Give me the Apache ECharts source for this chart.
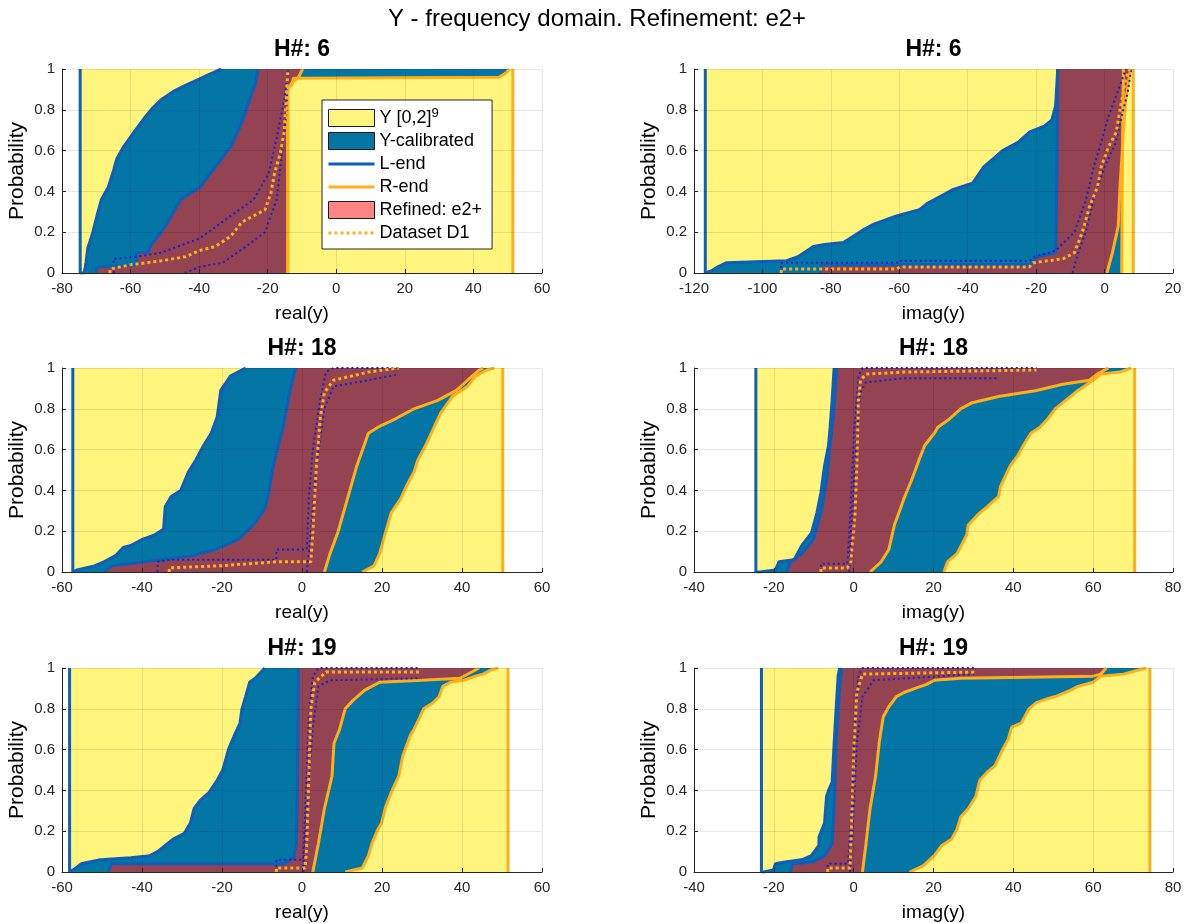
<!DOCTYPE html>
<html>
<head>
<meta charset="utf-8">
<script src="https://cdn.jsdelivr.net/npm/echarts@6/dist/echarts.min.js"></script>
<style>
  html, body { margin: 0; padding: 0; background: #fff; }
  #chart { width: 1195px; height: 923px; }
</style>
</head>
<body>
<div id="chart"></div>
<script>
// ---- panel metadata ----
const HARMONIC = [6, 6, 18, 18, 19, 19];
const AXIS_NAME = ['real(y)', 'imag(y)', 'real(y)', 'imag(y)', 'real(y)', 'imag(y)'];
const X_MIN = [-80, -120, -60, -40, -60, -40];
const X_MAX = [60, 20, 60, 80, 60, 80];
const X_STEP = 20;
const P_TICKS = [0, 0.2, 0.4, 0.6, 0.8, 1];

// interval ends of Y [0,2]^9
const L_END = [-74.7, -116.7, -57.3, -24.5, -58.1, -23.1];
const R_END = [51.5, 8.4, 50.2, 70.4, 51.5, 74.2];

// ---- H#6, real part ----  points are [value, probability]
const H6_RE_CAL_LEFT = [[-74.7,0],[-73.5,0],[-73,0.05],[-72.5,0.12],[-71,0.2],[-69.5,0.3],[-68.5,0.36],[-66.5,0.42],[-65,0.5],[-64,0.56],[-62,0.62],[-59,0.69],[-55.5,0.77],[-53.5,0.81],[-51,0.85],[-47.5,0.89],[-44,0.92],[-40,0.95],[-37.5,0.97],[-33.6,1]];
const H6_RE_CAL_RIGHT = [[-14.1,0],[-14.1,0.91],[-13,0.92],[-12.5,0.955],[47.5,0.96],[49.5,0.98],[50.5,1]];
const H6_RE_REF_LEFT = [[-69.9,0],[-69.9,0.03],[-58.2,0.04],[-58.2,0.1],[-54.9,0.1],[-54.3,0.13],[-49.8,0.23],[-45.4,0.36],[-39.8,0.42],[-35.3,0.52],[-30.8,0.62],[-27.5,0.74],[-25.3,0.85],[-23.6,0.93],[-22.8,1]];
const H6_RE_REF_RIGHT = [[-14.2,0],[-14.2,0.9],[-13,0.93],[-11,0.96],[-9.8,1]];
const H6_RE_D1 = [[-66,0],[-66,0.02],[-60,0.04],[-51,0.06],[-44,0.08],[-40,0.11],[-35.3,0.13],[-30.8,0.18],[-27.5,0.25],[-24.1,0.28],[-20.8,0.31],[-19.1,0.39],[-18,0.49],[-16.3,0.59],[-15.2,0.69],[-14.6,0.85],[-14.1,1]];
const H6_RE_D1_HI = [[-64.9,0],[-64.9,0.07],[-58,0.08],[-51,0.1],[-39.8,0.17],[-30.8,0.28],[-24.1,0.36],[-19.7,0.49],[-17.4,0.66],[-15.2,0.85],[-13.9,1]];
const H6_RE_D1_LO = [[-44.2,0],[-39.8,0.03],[-33.1,0.05],[-26.4,0.13],[-20.8,0.2],[-17.4,0.36],[-16.3,0.52],[-14.6,0.77],[-14.1,1]];

// ---- H#6, imaginary part ----
const H6_IM_CAL_LEFT = [[-116.7,0],[-115,0.01],[-113,0.03],[-110.6,0.05],[-92.9,0.06],[-89.6,0.08],[-85.1,0.13],[-81.8,0.14],[-76.3,0.15],[-70.7,0.21],[-67.4,0.24],[-60.8,0.28],[-54.1,0.31],[-51.9,0.34],[-47.5,0.38],[-44.2,0.41],[-38.6,0.44],[-35.3,0.52],[-29.8,0.6],[-25.3,0.64],[-22,0.69],[-17.6,0.72],[-15.4,0.75],[-14.3,0.82],[-13.7,1]];
const H6_IM_CAL_RIGHT = [[5,0],[5.1,0.3],[5.3,0.7],[5.5,1]];
const H6_IM_REF_LEFT = [[-82.9,0],[-82.9,0.04],[-22,0.04],[-19.8,0.08],[-14.3,0.1],[-13.9,0.5],[-13.7,1]];
const H6_IM_REF_RIGHT = [[0.7,0],[2.3,0.1],[4,0.23],[4.5,0.42],[5.5,0.69],[6.2,0.85],[7.6,1]];
const H6_IM_D1 = [[-94.5,0],[-94.5,0.02],[-60.8,0.02],[-59.7,0.03],[-22,0.03],[-20.9,0.05],[-12.1,0.07],[-8.8,0.1],[-6.5,0.2],[-4.3,0.33],[-2.1,0.42],[-1,0.52],[1.2,0.62],[3.4,0.69],[4.5,0.8],[6.2,0.95],[7.3,1]];
const H6_IM_D1_HI = [[-94.5,0],[-94.5,0.05],[-60,0.05],[-59.7,0.06],[-22,0.06],[-20.5,0.08],[-14.3,0.11],[-8.8,0.2],[-5.4,0.36],[-3.2,0.52],[-1,0.64],[1.2,0.77],[4.5,0.92],[6.2,1]];
const H6_IM_D1_LO = [[-9.4,0],[-7.7,0.1],[-5.5,0.2],[-3.2,0.36],[0,0.52],[3.3,0.64],[5,0.77],[6.7,0.88],[7.8,1]];

// ---- H#18, real part ----
const H18_RE_CAL_LEFT = [[-57.3,0],[-56.2,0.01],[-51.9,0.03],[-49.5,0.05],[-46.6,0.08],[-44.7,0.12],[-42.8,0.13],[-39.9,0.16],[-37,0.18],[-34.6,0.21],[-34.2,0.32],[-32.7,0.37],[-30.3,0.4],[-28.4,0.49],[-26.5,0.55],[-24.6,0.62],[-22.7,0.68],[-21.2,0.76],[-20.3,0.89],[-17.9,0.96],[-14.1,1]];
const H18_RE_CAL_RIGHT = [[15.1,0],[18,0.03],[19.4,0.09],[20.4,0.16],[22.3,0.29],[24.7,0.36],[26.1,0.42],[28,0.49],[29,0.55],[30.9,0.62],[32.8,0.7],[34.7,0.78],[37.6,0.86],[41.4,0.91],[43.4,0.96],[46.2,0.99],[48.1,1]];
const H18_RE_REF_LEFT = [[-49.5,0],[-47.6,0.03],[-35.1,0.06],[-27.5,0.08],[-21.7,0.11],[-16,0.16],[-12.2,0.23],[-9.3,0.31],[-8.3,0.39],[-7.2,0.52],[-4.5,0.73],[-3.1,0.88],[-1.6,1]];
const H18_RE_REF_RIGHT = [[5.6,0],[7,0.09],[8.9,0.19],[10.8,0.32],[13.7,0.52],[16.6,0.68],[19,0.71],[23.3,0.75],[28,0.8],[33.8,0.84],[38.6,0.89],[41.4,0.94],[44.3,0.99],[45.3,1]];
const H18_RE_D1 = [[-33.2,0],[-33.2,0.02],[-20.8,0.03],[-6.4,0.05],[2.2,0.05],[2.7,0.19],[3.6,0.52],[4.6,0.76],[5.6,0.88],[7.9,0.94],[16.6,0.98],[24.2,1]];
const H18_RE_D1_HI = [[-36.1,0],[-36.1,0.05],[-33,0.06],[-6.4,0.06],[-6.4,0.11],[1.2,0.11],[1.7,0.36],[2.7,0.6],[4.6,0.85],[6,0.98],[7.9,1],[24.2,1]];
const H18_RE_D1_LO = [[1.2,0],[2.2,0.19],[3.6,0.52],[5.6,0.8],[7.9,0.91],[16.6,0.94],[24.2,0.97]];

// ---- H#18, imaginary part ----
const H18_IM_CAL_LEFT = [[-24.5,0],[-23.4,0],[-19.6,0.01],[-18.7,0.05],[-14.9,0.06],[-13,0.13],[-10.6,0.19],[-9.2,0.29],[-8.2,0.39],[-7.3,0.52],[-6.3,0.62],[-5.9,0.71],[-5.4,0.84],[-4.9,1]];
const H18_IM_CAL_RIGHT = [[22.6,0],[23.5,0.05],[25.9,0.09],[28.3,0.18],[28.7,0.23],[30.6,0.27],[31.6,0.29],[33.5,0.32],[36.3,0.37],[36.8,0.42],[39.2,0.52],[41.1,0.57],[42.5,0.62],[44.4,0.68],[46.7,0.71],[48.6,0.75],[50.5,0.8],[52.4,0.83],[54.3,0.86],[56.2,0.89],[60,0.94],[61.9,0.97],[66.7,0.98],[69.5,1]];
const H18_IM_REF_LEFT = [[-16.8,0],[-15.8,0.05],[-13,0.09],[-10.1,0.16],[-8.2,0.29],[-6.8,0.45],[-5.9,0.62],[-4.9,0.8],[-4.3,1]];
const H18_IM_REF_RIGHT = [[4.1,0],[6.9,0.05],[8.8,0.11],[10.2,0.23],[11.7,0.31],[12.6,0.36],[14.5,0.45],[16.4,0.55],[17.8,0.62],[20.2,0.68],[21.1,0.71],[24,0.75],[26.8,0.8],[29.7,0.83],[36.3,0.86],[45.8,0.89],[52.4,0.92],[59.1,0.94],[61,0.97],[63.8,1]];
const H18_IM_D1 = [[-8.2,0],[-8.2,0.02],[-1.6,0.02],[-0.7,0.05],[0.3,0.27],[0.8,0.52],[1.2,0.84],[1.7,0.94],[3.1,0.97],[12.6,0.98],[45.8,0.99]];
const H18_IM_D1_HI = [[-8.2,0],[-8.2,0.04],[-1.6,0.04],[-1.1,0.19],[0.1,0.68],[1.2,0.96],[2.2,1],[45.8,1]];
const H18_IM_D1_LO = [[-1.1,0],[-0.7,0.19],[0.8,0.68],[1.7,0.88],[3.1,0.93],[12.6,0.95],[36.3,0.95]];

// ---- H#19, real part ----
const H19_RE_CAL_LEFT = [[-58.1,0],[-57.6,0],[-56.5,0.02],[-55.2,0.04],[-50.4,0.06],[-42.8,0.07],[-38,0.08],[-36.1,0.1],[-34.2,0.13],[-32.3,0.16],[-29.4,0.19],[-27.9,0.24],[-27,0.31],[-25.5,0.35],[-23.2,0.39],[-21.2,0.45],[-19.8,0.5],[-18.8,0.57],[-18.4,0.6],[-16.9,0.67],[-15.5,0.73],[-15,0.8],[-14.1,0.86],[-13.1,0.93],[-11.7,0.95],[-9.3,1]];
const H19_RE_CAL_RIGHT = [[10.8,0],[15.1,0.02],[16.6,0.08],[17.5,0.14],[19,0.21],[19.9,0.24],[20.9,0.32],[22.3,0.39],[24.2,0.47],[25.2,0.57],[27.1,0.67],[28,0.7],[29.5,0.76],[30.4,0.8],[32.8,0.83],[34.3,0.86],[35.2,0.91],[37.1,0.93],[40.5,0.94],[43.4,0.96],[45.3,0.97],[47.2,0.99],[49.1,1]];
const H19_RE_REF_LEFT = [[-48.5,0],[-47.6,0.04],[-4.5,0.04],[-2.1,0.07],[-1.4,0.14],[-1.1,0.47],[-0.9,1]];
const H19_RE_REF_RIGHT = [[2.7,0],[4.1,0.14],[5.6,0.31],[7.5,0.47],[8,0.63],[9.4,0.7],[10.8,0.8],[12.7,0.84],[15.6,0.89],[19.4,0.93],[30,0.94],[39.5,0.95],[44.3,1]];
const H19_RE_D1 = [[-6.4,0],[-6.4,0.02],[0.8,0.02],[1.2,0.14],[1.7,0.47],[2.2,0.8],[3.2,0.93],[6,0.98],[29.5,0.98]];
const H19_RE_D1_HI = [[-6.4,0],[-6.4,0.06],[0.3,0.06],[0.8,0.31],[1.7,0.76],[2.7,0.96],[4.1,1],[29.5,1]];
const H19_RE_D1_LO = [[0.3,0],[1.2,0.31],[2.7,0.71],[4.1,0.91],[7,0.94],[29.5,0.95]];

// ---- H#19, imaginary part ----
const H19_IM_CAL_LEFT = [[-23.1,0],[-22.5,0],[-20.1,0.01],[-19.6,0.04],[-16.8,0.05],[-13,0.06],[-10.6,0.08],[-8.7,0.13],[-8.7,0.17],[-7.3,0.24],[-6.8,0.37],[-6.3,0.4],[-5.4,0.44],[-4.9,0.63],[-4.4,0.8],[-3.9,0.96],[-3.5,1]];
const H19_IM_CAL_RIGHT = [[14,0],[17.4,0.03],[20.2,0.08],[22.1,0.13],[24.5,0.16],[25.9,0.21],[26.8,0.27],[28.7,0.31],[30.6,0.37],[31.6,0.45],[33.5,0.49],[35.4,0.52],[37.3,0.6],[38.7,0.65],[39.6,0.71],[42,0.73],[43.9,0.8],[45.8,0.83],[48.6,0.85],[50.5,0.86],[54.3,0.89],[56.2,0.91],[60,0.93],[61.9,0.96],[67.6,0.97],[71.4,0.99],[73.3,1]];
const H19_IM_REF_LEFT = [[-15.8,0],[-15.4,0.04],[-10.1,0.05],[-7.3,0.08],[-5.4,0.14],[-4.9,0.31],[-4.4,0.63],[-3.6,0.88],[-3,1]];
const H19_IM_REF_RIGHT = [[2.2,0],[3.1,0.14],[4.1,0.31],[5.5,0.47],[6.5,0.65],[7.4,0.76],[8.8,0.81],[10.7,0.86],[12.6,0.88],[15.4,0.9],[18.3,0.92],[20.2,0.94],[26.8,0.95],[60,0.96],[61.9,0.97],[63.3,1]];
const H19_IM_D1 = [[-6.5,0],[-6.5,0.02],[-0.9,0.02],[-0.4,0.31],[0.1,0.63],[0.8,0.88],[2.2,0.97],[30.2,0.98]];
const H19_IM_D1_HI = [[-6.5,0],[-6.5,0.04],[-1.4,0.04],[-0.5,0.31],[0.3,0.71],[1.2,0.96],[2.2,1],[30.2,1]];
const H19_IM_D1_LO = [[-0.9,0],[0,0.31],[0.8,0.63],[2.2,0.86],[5,0.94],[30.2,0.97]];

const CAL_LEFT = [H6_RE_CAL_LEFT, H6_IM_CAL_LEFT, H18_RE_CAL_LEFT, H18_IM_CAL_LEFT, H19_RE_CAL_LEFT, H19_IM_CAL_LEFT];
const CAL_RIGHT = [H6_RE_CAL_RIGHT, H6_IM_CAL_RIGHT, H18_RE_CAL_RIGHT, H18_IM_CAL_RIGHT, H19_RE_CAL_RIGHT, H19_IM_CAL_RIGHT];
const REF_LEFT = [H6_RE_REF_LEFT, H6_IM_REF_LEFT, H18_RE_REF_LEFT, H18_IM_REF_LEFT, H19_RE_REF_LEFT, H19_IM_REF_LEFT];
const REF_RIGHT = [H6_RE_REF_RIGHT, H6_IM_REF_RIGHT, H18_RE_REF_RIGHT, H18_IM_REF_RIGHT, H19_RE_REF_RIGHT, H19_IM_REF_RIGHT];
const D1_MID = [H6_RE_D1, H6_IM_D1, H18_RE_D1, H18_IM_D1, H19_RE_D1, H19_IM_D1];
const D1_HI = [H6_RE_D1_HI, H6_IM_D1_HI, H18_RE_D1_HI, H18_IM_D1_HI, H19_RE_D1_HI, H19_IM_D1_HI];
const D1_LO = [H6_RE_D1_LO, H6_IM_D1_LO, H18_RE_D1_LO, H18_IM_D1_LO, H19_RE_D1_LO, H19_IM_D1_LO];

// ---- layout & style ----
const FONT = "'Liberation Sans', Arial, Helvetica, sans-serif";
const GRID_LEFT = [62, 694];
const GRID_WIDTH = [480, 479];
const GRID_TOP = [69, 368, 668];
const GRID_HEIGHT = 204;

const C_YELLOW = '#FFF47C';
const C_BLUE_FILL = '#0376A6';
const C_RED_FILL = '#944352';
const C_BLUE_EDGE = '#0D5FBA';
const C_ORANGE = '#FDB01A';
const C_DOT_BLUE = '#2020C8';
const C_AXIS = '#262626';

const NAME_Y = 'Y [0,2]^9';
const NAME_CAL = 'Y-calibrated';
const NAME_REF = 'Refined: e2+';

// legend glyphs: a solid bar and a row of square dots, both 46 wide
const ICON_SOLID = 'path://M0,0H46V3H0Z';
const ICON_DOTTED = 'path://' + Array.from({ length: 8 }, (_, k) => `M${k * 6},0h3v3h-3Z`).join('') + 'M45.9,0h0.1v3h-0.1Z';

function polygonSeries(name, pts, color, idx, z) {
  return {
    type: 'custom', name, xAxisIndex: idx, yAxisIndex: idx, z, silent: true,
    itemStyle: { color },
    data: pts,
    renderItem: (params, api) => {
      if (params.dataIndex !== 0) return null;
      return {
        type: 'polygon',
        shape: { points: pts.map(p => api.coord(p)) },
        style: { fill: color }
      };
    }
  };
}

function lineSeries(name, pts, color, width, idx, z, dash) {
  return {
    type: 'line', name, xAxisIndex: idx, yAxisIndex: idx, z, silent: true,
    data: pts, symbol: 'none', showSymbol: false,
    lineStyle: { color, width, type: dash || 'solid', cap: 'butt' },
    itemStyle: { color }
  };
}

const grids = [], xAxes = [], yAxes = [], series = [], titles = [];

titles.push({
  text: 'Y - frequency domain. Refinement: e2+',
  left: 597, top: 7, textAlign: 'center', padding: 0,
  textStyle: { fontFamily: FONT, fontSize: 24, fontWeight: 'normal', color: '#000' }
});

for (let i = 0; i < 6; i++) {
  const col = i % 2, row = Math.floor(i / 2);
  const left = GRID_LEFT[col], top = GRID_TOP[row], width = GRID_WIDTH[col];
  grids.push({ left, top, width, height: GRID_HEIGHT, containLabel: false });

  titles.push({
    text: 'H#: ' + HARMONIC[i],
    left: left + width / 2, top: top - 31, textAlign: 'center', padding: 0,
    textStyle: { fontFamily: FONT, fontSize: 23, fontWeight: 'bold', color: '#000' }
  });

  xAxes.push({
    type: 'value', gridIndex: i, min: X_MIN[i], max: X_MAX[i], interval: X_STEP, z: 10,
    name: AXIS_NAME[i], nameLocation: 'middle', nameGap: 31,
    nameTextStyle: { fontFamily: FONT, fontSize: 19, color: '#000' },
    axisLine: { show: true, onZero: false, lineStyle: { color: C_AXIS, width: 1 } },
    axisTick: { show: true, inside: true, length: 4, lineStyle: { color: C_AXIS } },
    axisLabel: { fontFamily: FONT, fontSize: 15, color: C_AXIS, margin: 8 },
    splitLine: { show: true, lineStyle: { color: 'rgba(0,0,0,0.09)', width: 1 } }
  });

  yAxes.push({
    type: 'value', gridIndex: i, min: P_TICKS[0], max: P_TICKS[P_TICKS.length - 1], interval: 0.2, z: 10,
    name: 'Probability', nameLocation: 'middle', nameGap: 34, nameRotate: 90,
    nameTextStyle: { fontFamily: FONT, fontSize: 21, color: '#000' },
    axisLine: { show: true, onZero: false, lineStyle: { color: C_AXIS, width: 1 } },
    axisTick: { show: true, inside: true, length: 4, lineStyle: { color: C_AXIS } },
    axisLabel: { fontFamily: FONT, fontSize: 15, color: C_AXIS, margin: 7 },
    splitLine: { show: true, lineStyle: { color: 'rgba(0,0,0,0.09)', width: 1 } }
  });

  const L = L_END[i], R = R_END[i];
  // filled p-boxes: left bound upward, then right bound downward
  series.push(polygonSeries(NAME_Y, [[L, 0], [L, 1], [R, 1], [R, 0]], C_YELLOW, i, 1));
  series.push(polygonSeries(NAME_CAL, CAL_LEFT[i].concat(CAL_RIGHT[i].slice().reverse()), C_BLUE_FILL, i, 2));
  series.push(polygonSeries(NAME_REF, REF_LEFT[i].concat(REF_RIGHT[i].slice().reverse()), C_RED_FILL, i, 3));

  // p-box edges
  series.push(lineSeries('cal-left', CAL_LEFT[i], C_BLUE_EDGE, 3, i, 4));
  series.push(lineSeries('cal-right', CAL_RIGHT[i], C_ORANGE, 3, i, 4));
  series.push(lineSeries('ref-left', REF_LEFT[i], C_BLUE_EDGE, 3, i, 4));
  series.push(lineSeries('ref-right', REF_RIGHT[i], C_ORANGE, 3, i, 4));

  // interval ends
  series.push(lineSeries('L-end', [[L, 0], [L, 1]], C_BLUE_EDGE, 3, i, 5));
  series.push(lineSeries('R-end', [[R, 0], [R, 1]], C_ORANGE, 3, i, 5));

  // dataset D1 with its bounds
  series.push(lineSeries('D1-bounds', D1_HI[i], C_DOT_BLUE, 2, i, 6, [2, 3]));
  series.push(lineSeries('D1-bounds', D1_LO[i], C_DOT_BLUE, 2, i, 6, [2, 3]));
  series.push(lineSeries('Dataset D1', D1_MID[i], C_ORANGE, 3, i, 7, [3, 3]));
}

const option = {
  animation: false,
  backgroundColor: '#fff',
  textStyle: { fontFamily: FONT },
  title: titles,
  grid: grids,
  xAxis: xAxes,
  yAxis: yAxes,
  legend: {
    orient: 'vertical', left: 322, top: 100, z: 20,
    selectedMode: false,
    itemWidth: 46, itemHeight: 17, itemGap: 5,
    padding: [7, 10, 7, 6],
    backgroundColor: '#fff', borderColor: C_AXIS, borderWidth: 1,
    textStyle: {
      fontFamily: FONT, fontSize: 18, color: '#000',
      rich: {
        base: { fontFamily: FONT, fontSize: 18, color: '#000' },
        sup: { fontFamily: FONT, fontSize: 13, color: '#000', verticalAlign: 'bottom', padding: [0, 0, 9, 0] }
      }
    },
    formatter: name => name === NAME_Y ? '{base|Y [0,2]}{sup|9}' : name,
    data: [
      { name: NAME_Y, icon: 'rect', itemStyle: { color: C_YELLOW, borderColor: '#1a1a1a', borderWidth: 1 } },
      { name: NAME_CAL, icon: 'rect', itemStyle: { color: C_BLUE_FILL, borderColor: '#1a1a1a', borderWidth: 1 } },
      { name: 'L-end', icon: ICON_SOLID, itemStyle: { color: C_BLUE_EDGE, borderWidth: 0 } },
      { name: 'R-end', icon: ICON_SOLID, itemStyle: { color: C_ORANGE, borderWidth: 0 } },
      { name: NAME_REF, icon: 'rect', itemStyle: { color: '#FF8585', borderColor: '#1a1a1a', borderWidth: 1 } },
      { name: 'Dataset D1', icon: ICON_DOTTED, itemStyle: { color: C_ORANGE, borderWidth: 0 } }
    ]
  },
  series
};

const chart = echarts.init(document.getElementById('chart'), null, { renderer: 'canvas' });
chart.setOption(option);
</script>
</body>
</html>
